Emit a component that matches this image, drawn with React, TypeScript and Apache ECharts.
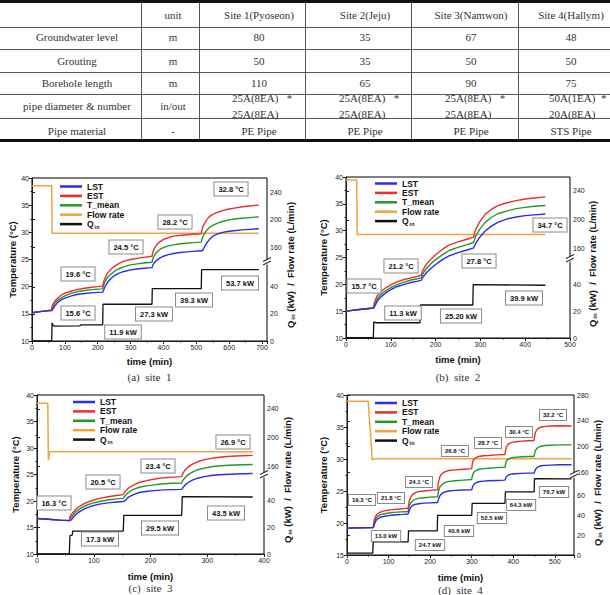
import React, { useEffect, useRef } from 'react';
import * as echarts from 'echarts';

// ---------------- table data ----------------
const tableHeader = ['unit', 'Site 1(Pyoseon)', 'Site 2(Jeju)', 'Site 3(Namwon)', 'Site 4(Hallym)'];
const rowLabels = ['Groundwater level', 'Grouting', 'Borehole length', 'pipe diameter & number', 'Pipe material'];
const rowUnits = ['m', 'm', 'm', 'in/out', '-'];
const groundwaterLevel = ['80', '35', '67', '48'];
const groutingDepth = ['50', '35', '50', '50'];
const boreholeLength = ['110', '65', '90', '75'];
const pipeDiameter = ['25A(8EA)   *\n25A(8EA)', '25A(8EA)   *\n25A(8EA)', '25A(8EA)   *\n25A(8EA)', '50A(1EA)  *\n20A(8EA)'];
const pipeMaterial = ['PE Pipe', 'PE Pipe', 'PE Pipe', 'STS Pipe'];
const captions = ['(a)  site  1', '(b)  site  2', '(c)  site  3', '(d)  site  4'];

// ---------------- chart data ----------------
const seriesNames = ['LST', 'EST', 'T_mean', 'Flow rate', 'Q_in'];

// Site 1
const site1Time = [0, 30, 60, 61, 65, 70, 80, 90, 100, 120, 140, 160, 180, 200, 215, 218, 222, 230, 240, 250, 265, 280, 300, 320, 340, 365, 368, 372, 380, 390, 400, 415, 430, 450, 470, 490, 515, 518, 522, 530, 540, 550, 565, 580, 600, 620, 640, 660, 690];
const site1EST = [15.2, 15.45, 15.7, 16.4, 16.9, 17.4, 18.0, 18.5, 18.8, 19.2, 19.5, 19.7, 19.9, 20.0, 20.1, 20.9, 21.6, 22.5, 23.2, 23.7, 24.3, 24.7, 25.0, 25.2, 25.4, 25.6, 26.4, 27.0, 27.8, 28.3, 28.7, 29.0, 29.3, 29.45, 29.55, 29.65, 29.75, 30.6, 31.3, 32.2, 32.9, 33.3, 33.7, 34.0, 34.3, 34.5, 34.7, 34.85, 35.0];
const site1Tmean = [15.2, 15.45, 15.65, 16.0, 16.5, 17.0, 17.6, 18.0, 18.3, 18.8, 19.1, 19.3, 19.45, 19.55, 19.6, 20.3, 20.9, 21.7, 22.3, 22.8, 23.3, 23.7, 24.0, 24.2, 24.35, 24.5, 25.2, 25.7, 26.4, 26.9, 27.2, 27.5, 27.7, 27.9, 28.0, 28.1, 28.2, 28.9, 29.5, 30.3, 30.9, 31.3, 31.7, 32.0, 32.3, 32.5, 32.6, 32.7, 32.85];
const site1LST = [15.2, 15.45, 15.6, 15.7, 16.0, 16.5, 17.2, 17.6, 17.9, 18.3, 18.6, 18.75, 18.85, 18.95, 19.0, 19.4, 20.0, 20.8, 21.5, 22.0, 22.5, 22.8, 23.1, 23.25, 23.4, 23.5, 24.0, 24.4, 24.9, 25.3, 25.6, 25.9, 26.1, 26.3, 26.4, 26.5, 26.6, 26.6, 27.0, 27.9, 28.7, 29.3, 29.7, 30.0, 30.2, 30.35, 30.45, 30.55, 30.65];
const site1Q = [[0, 0], [60, 0], [61, 13.5], [64, 11.5], [70, 11.0], [145, 11.2], [150, 12.0], [215, 12.0], [216, 27.2], [365, 27.2], [366, 38.8], [515, 38.8], [516, 52.8], [690, 52.8]];
const site1Flow = [[0, 249], [60, 249], [61, 180], [690, 180]];
const site1TempLabels = ['15.6 °C', '19.6 °C', '24.5 °C', '28.2 °C', '32.8 °C'];
const site1PowerLabels = ['11.9 kW', '27.3 kW', '39.3 kW', '53.7 kW'];

// Site 2
const site2Time = [0, 30, 62, 63, 66, 70, 80, 90, 100, 115, 130, 145, 160, 168, 170, 174, 180, 190, 200, 215, 230, 250, 270, 285, 287, 291, 298, 310, 325, 340, 360, 380, 400, 420, 445];
const site2EST = [15.0, 15.3, 15.6, 16.5, 17.2, 17.9, 18.8, 19.4, 19.9, 20.5, 20.9, 21.2, 21.5, 21.7, 22.3, 23.0, 23.8, 24.7, 25.5, 26.5, 27.3, 27.9, 28.4, 28.8, 29.6, 30.5, 31.6, 33.0, 34.0, 34.7, 35.2, 35.6, 35.9, 36.1, 36.3];
const site2Tmean = [15.0, 15.3, 15.6, 16.0, 16.6, 17.3, 18.3, 18.9, 19.4, 20.0, 20.4, 20.8, 21.05, 21.2, 21.7, 22.3, 23.0, 23.9, 24.6, 25.5, 26.3, 26.9, 27.4, 27.8, 28.4, 29.2, 30.2, 31.5, 32.5, 33.2, 33.7, 34.1, 34.35, 34.55, 34.7];
const site2LST = [15.0, 15.3, 15.6, 15.8, 16.2, 16.9, 17.8, 18.5, 19.0, 19.6, 20.0, 20.35, 20.6, 20.75, 21.1, 21.6, 22.2, 23.0, 23.7, 24.6, 25.3, 25.9, 26.4, 26.8, 27.2, 27.8, 28.7, 29.9, 30.9, 31.6, 32.2, 32.55, 32.8, 32.95, 33.1];
const site2Q = [[0, 0.3], [61, 0.3], [62, 12.3], [66, 11.5], [165, 11.5], [166, 24.9], [283, 24.9], [284, 40.2], [445, 39.8]];
const site2Flow = [[0, 255], [24, 255], [25, 180], [445, 180]];
const site2TempLabels = ['15.7 °C', '21.2 °C', '27.8 °C', '34.7 °C'];
const site2PowerLabels = ['11.3 kW', '25.20 kW', '39.9 kW'];

// Site 3
const site3Time = [0, 20, 40, 57, 58, 60, 63, 68, 75, 85, 95, 110, 125, 140, 152, 154, 157, 162, 170, 180, 195, 210, 225, 240, 255, 257, 260, 265, 273, 283, 295, 310, 330, 350, 380];
const site3EST = [16.7, 16.55, 16.4, 16.3, 17.0, 17.4, 17.8, 18.4, 19.0, 19.6, 20.0, 20.5, 20.8, 21.05, 21.2, 21.6, 22.0, 22.5, 23.0, 23.5, 23.9, 24.2, 24.4, 24.5, 24.6, 25.2, 25.7, 26.3, 26.9, 27.4, 27.8, 28.1, 28.35, 28.5, 28.6];
const site3Tmean = [16.7, 16.55, 16.4, 16.3, 16.6, 16.9, 17.3, 17.9, 18.5, 19.1, 19.5, 19.9, 20.2, 20.4, 20.5, 20.8, 21.2, 21.7, 22.2, 22.6, 22.9, 23.1, 23.25, 23.35, 23.4, 23.9, 24.3, 24.9, 25.4, 25.9, 26.2, 26.5, 26.7, 26.8, 26.9];
const site3LST = [16.7, 16.55, 16.4, 16.3, 16.3, 16.4, 16.8, 17.4, 18.0, 18.6, 19.0, 19.4, 19.65, 19.8, 19.9, 20.0, 20.3, 20.8, 21.2, 21.6, 21.85, 22.0, 22.1, 22.15, 22.2, 22.5, 22.9, 23.4, 23.9, 24.3, 24.6, 24.85, 25.0, 25.1, 25.2];
const site3Q = [[0, 0], [57, 0], [58, 13.8], [62, 14.2], [63, 17.3], [152, 17.3], [153, 29.2], [255, 29.2], [256, 43.3], [380, 43.0]];
const site3Flow = [[0, 248], [19, 248], [20, 168], [21, 172], [22, 180], [380, 180]];
const site3TempLabels = ['16.3 °C', '20.5 °C', '23.4 °C', '26.9 °C'];
const site3PowerLabels = ['17.3 kW', '29.5 kW', '43.5 kW'];

// Site 4
const site4Time = [0, 30, 63, 64, 66, 69, 73, 80, 90, 105, 120, 135, 147, 148, 150, 153, 157, 163, 172, 185, 200, 218, 219, 221, 224, 228, 235, 245, 260, 280, 300, 301, 303, 306, 310, 317, 327, 340, 360, 380, 381, 383, 386, 390, 397, 407, 420, 435, 450, 451, 453, 456, 460, 467, 477, 490, 510, 540];
const site4EST = [19.2, 19.25, 19.3, 19.9, 20.6, 21.1, 21.4, 21.7, 21.9, 22.05, 22.15, 22.25, 22.3, 22.8, 23.5, 24.0, 24.4, 24.7, 24.9, 25.0, 25.1, 25.2, 25.9, 26.7, 27.3, 27.7, 28.0, 28.2, 28.3, 28.4, 28.5, 29.1, 29.7, 30.0, 30.2, 30.4, 30.5, 30.55, 30.65, 30.7, 31.2, 31.8, 32.2, 32.4, 32.6, 32.7, 32.8, 32.85, 32.9, 33.4, 34.1, 34.5, 34.8, 35.0, 35.1, 35.15, 35.2, 35.15];
const site4Tmean = [19.2, 19.25, 19.3, 19.6, 20.2, 20.7, 21.0, 21.3, 21.45, 21.6, 21.7, 21.75, 21.8, 22.2, 22.7, 23.1, 23.4, 23.7, 23.85, 23.95, 24.05, 24.1, 24.6, 25.2, 25.7, 26.0, 26.3, 26.5, 26.6, 26.7, 26.8, 27.2, 27.7, 28.0, 28.2, 28.4, 28.5, 28.55, 28.65, 28.7, 29.1, 29.6, 29.9, 30.05, 30.2, 30.3, 30.35, 30.4, 30.4, 30.8, 31.3, 31.6, 31.8, 32.0, 32.1, 32.15, 32.2, 32.2];
const site4LST = [19.2, 19.25, 19.3, 19.4, 19.8, 20.3, 20.6, 20.9, 21.05, 21.2, 21.3, 21.35, 21.4, 21.6, 22.0, 22.4, 22.7, 22.9, 23.0, 23.1, 23.15, 23.2, 23.5, 23.9, 24.3, 24.6, 24.85, 25.0, 25.1, 25.15, 25.2, 25.4, 25.8, 26.1, 26.3, 26.45, 26.55, 26.6, 26.65, 26.7, 26.9, 27.2, 27.4, 27.55, 27.65, 27.7, 27.75, 27.8, 27.8, 28.0, 28.3, 28.6, 28.8, 28.95, 29.0, 29.05, 29.1, 29.1];
const site4Q = [[0, 2], [62, 2], [63, 13.3], [147, 13.3], [148, 24.5], [217, 24.5], [218, 40.3], [300, 40.3], [301, 52.5], [380, 52.5], [381, 64], [450, 64], [451, 77.5], [540, 77.2]];
const site4Flow = [[0, 271], [51, 271], [61, 178], [63, 181], [540, 181]];
const site4TempLabels = ['19.3 °C', '21.8 °C', '24.1 °C', '26.8 °C', '28.7 °C', '30.4 °C', '32.2 °C'];
const site4PowerLabels = ['13.0 kW', '24.7 kW', '40.6 kW', '52.5 kW', '64.3 kW', '76.7 kW'];

// axis tick values
const tempTicks13 = [10, 40, 5];
const tempTicks4 = [15, 40, 5];
const qTicks = [0, 20, 40];
const qTicks4 = [0, 20, 40, 60];
const flowTicks = [160, 200, 240];
const flowTicks4 = [160, 200, 240, 280];

const sites = [
  { time: site1Time, LST: site1LST, EST: site1EST, Tmean: site1Tmean, Q: site1Q, Flow: site1Flow, tl: site1TempLabels, pl: site1PowerLabels, temp: tempTicks13, qT: qTicks, fT: flowTicks },
  { time: site2Time, LST: site2LST, EST: site2EST, Tmean: site2Tmean, Q: site2Q, Flow: site2Flow, tl: site2TempLabels, pl: site2PowerLabels, temp: tempTicks13, qT: qTicks, fT: flowTicks },
  { time: site3Time, LST: site3LST, EST: site3EST, Tmean: site3Tmean, Q: site3Q, Flow: site3Flow, tl: site3TempLabels, pl: site3PowerLabels, temp: tempTicks13, qT: qTicks, fT: flowTicks },
  { time: site4Time, LST: site4LST, EST: site4EST, Tmean: site4Tmean, Q: site4Q, Flow: site4Flow, tl: site4TempLabels, pl: site4PowerLabels, temp: tempTicks4, qT: qTicks4, fT: flowTicks4 },
];

// ---------------- layout (pixels) ----------------
const geo = [
  { L: 32, R: 267, T: 178, B: 341, brk: 262, xMax: 715, qMax: 58.5, fMin: 138.2, fMax: 260.4,
    legL: 60, legT: 182, tX: 12, rX: 290, rY: 265, timeY: 361, capY: 377, box: 7.5,
    tlPos: [[78, 313], [78, 274], [126, 247], [175, 222], [231, 189]], plPos: [[123, 332], [154, 314], [194, 300], [240, 283]] },
  { L: 346, R: 570, T: 177, B: 338, brk: 259, xMax: 500, qMax: 59.6, fMin: 146.2, fMax: 259.3,
    legL: 375, legT: 179, tX: 323, rX: 592, rY: 264, timeY: 359, capY: 377, box: 7.5,
    tlPos: [[364, 286], [401, 266], [479, 261], [550, 225]], plPos: [[403, 313], [461, 316], [524, 298]] },
  { L: 37, R: 264, T: 395, B: 554, brk: 475, xMax: 400, qMax: 59.6, fMin: 147.4, fMax: 259.6,
    legL: 73, legT: 397.5, tX: 15, rX: 287, rY: 480, timeY: 576, capY: 588, box: 7.5,
    tlPos: [[54, 503], [103, 482], [158, 466], [233, 442]], plPos: [[100, 539], [160, 528], [226, 513]] },
  { L: 347, R: 574, T: 395, B: 555, brk: 475, xMax: 546, qMax: 81.2, fMin: 155.4, fMax: 280.6,
    legL: 375, legT: 398.5, tX: 323, rX: 597, rY: 483, timeY: 577, capY: 590, box: 6,
    tlPos: [[362, 500], [391, 498], [419, 482], [455, 451], [488, 443], [519, 432], [553, 415]],
    plPos: [[386, 536], [430, 545], [459, 531], [492, 518], [521, 505], [554, 492]] },
];

const colors: Record<string, string> = {
  LST: '#2b2bf2',
  EST: '#f22a2a',
  T_mean: '#1f9a27',
  'Flow rate': '#f0a33c',
  Q_in: '#111111',
};

const SANS = '"Liberation Sans", Arial, Helvetica, sans-serif';
const SERIF = '"Liberation Serif", "Times New Roman", serif';
const AX = '#1a1a1a';

function buildOption() {
  const grid: any[] = [];
  const xAxis: any[] = [];
  const yAxis: any[] = [];
  const series: any[] = [];
  const legend: any[] = [];
  const graphic: any[] = [];

  const tickLabel = { fontSize: 7, color: '#222', fontFamily: SANS, margin: 3 };

  sites.forEach((s, p) => {
    const g = geo[p];
    const w = g.R - g.L;
    const gi = p * 3;
    grid.push({ left: g.L, top: g.T, width: w, height: g.B - g.T, show: true, borderColor: '#000', borderWidth: 1, backgroundColor: 'transparent' });
    grid.push({ left: g.L, top: g.brk, width: w, height: g.B - g.brk, show: false });
    grid.push({ left: g.L, top: g.T, width: w, height: g.brk - g.T, show: false });

    xAxis.push({
      gridIndex: gi, type: 'value', min: 0, max: g.xMax, interval: 100,
      axisLine: { show: true, onZero: false, lineStyle: { color: AX, width: 1 } },
      axisTick: { show: true, inside: false, length: 3, lineStyle: { color: AX } },
      minorTick: { show: true, splitNumber: 2, length: 1.5, lineStyle: { color: AX } },
      splitLine: { show: false },
      axisLabel: { ...tickLabel, formatter: (v: number) => (v % 100 === 0 ? String(v) : '') },
    });
    xAxis.push({ gridIndex: gi + 1, type: 'value', min: 0, max: g.xMax, show: false });
    xAxis.push({ gridIndex: gi + 2, type: 'value', min: 0, max: g.xMax, show: false });

    yAxis.push({
      gridIndex: gi, type: 'value', position: 'left', min: s.temp[0], max: s.temp[1], interval: s.temp[2],
      axisLine: { show: true, onZero: false, lineStyle: { color: AX, width: 1 } },
      axisTick: { show: true, inside: false, length: 3, lineStyle: { color: AX } },
      minorTick: { show: true, splitNumber: 2, length: 1.5, lineStyle: { color: AX } },
      splitLine: { show: false },
      axisLabel: { ...tickLabel },
    });
    yAxis.push({
      gridIndex: gi + 1, type: 'value', position: 'right', min: 0, max: g.qMax,
      axisLine: { show: false },
      axisTick: { show: true, inside: false, length: 3, lineStyle: { color: AX }, customValues: s.qT },
      splitLine: { show: false },
      axisLabel: { ...tickLabel, customValues: s.qT },
    });
    yAxis.push({
      gridIndex: gi + 2, type: 'value', position: 'right', min: g.fMin, max: g.fMax,
      axisLine: { show: false },
      axisTick: { show: true, inside: false, length: 3, lineStyle: { color: AX }, customValues: s.fT },
      splitLine: { show: false },
      axisLabel: { ...tickLabel, customValues: s.fT },
    });

    const line = (name: string, data: any[], xi: number, width: number) => ({
      type: 'line', name, xAxisIndex: xi, yAxisIndex: xi, data,
      showSymbol: false, symbol: 'none', silent: true,
      lineStyle: { color: colors[name], width }, itemStyle: { color: colors[name] },
    });
    series.push(line('Flow rate', s.Flow, gi + 2, 1.5));
    series.push(line('Q_in', s.Q, gi + 1, 1.3));
    series.push(line('T_mean', s.time.map((t, i) => [t, s.Tmean[i]]), gi, 1.4));
    series.push(line('EST', s.time.map((t, i) => [t, s.EST[i]]), gi, 1.4));
    series.push(line('LST', s.time.map((t, i) => [t, s.LST[i]]), gi, 1.4));

    legend.push({
      data: seriesNames, orient: 'vertical', left: g.legL, top: g.legT,
      itemWidth: 22, itemHeight: 2.5, itemGap: 0.4, icon: 'rect', padding: 0, selectedMode: false,
      formatter: (n: string) => (n === 'Q_in' ? '{q|Q}{s|in}' : n),
      textStyle: {
        fontSize: 8.5, fontWeight: 'bold', color: '#111', fontFamily: SANS, lineHeight: 9,
        rich: {
          q: { fontSize: 8.5, fontWeight: 'bold', fontFamily: SANS, color: '#111' },
          s: { fontSize: 5.5, fontWeight: 'bold', fontFamily: SANS, color: '#111', padding: [5, 0, 0, 1] },
        },
      },
    });

    // break marks on the right axis
    graphic.push({ type: 'rect', z: 90, shape: { x: g.R - 4, y: g.brk - 2.5, width: 8, height: 5 }, style: { fill: '#fff' } });
    graphic.push({ type: 'line', z: 91, shape: { x1: g.R - 4, y1: g.brk - 0.5, x2: g.R + 4, y2: g.brk - 4.5 }, style: { stroke: '#000', lineWidth: 1 } });
    graphic.push({ type: 'line', z: 91, shape: { x1: g.R - 4, y1: g.brk + 3, x2: g.R + 4, y2: g.brk - 1 }, style: { stroke: '#000', lineWidth: 1 } });

    // axis titles
    const cx = (g.L + g.R) / 2;
    graphic.push({ type: 'text', z: 100, x: g.tX, y: (g.T + g.B) / 2, rotation: Math.PI / 2,
      style: { text: 'Temperature (°C)', font: `bold 9.5px ${SANS}`, fill: '#111', align: 'center', verticalAlign: 'middle' } });
    graphic.push({ type: 'text', z: 100, x: g.rX, y: g.rY, rotation: Math.PI / 2,
      style: {
        text: '{b|Q}{s|in}{b| (kW)  /  Flow rate (L/min)}', align: 'center', verticalAlign: 'middle', fill: '#111',
        rich: {
          b: { font: `bold 9.5px ${SANS}`, fill: '#111' },
          s: { font: `bold 6px ${SANS}`, fill: '#111', padding: [5, 0, 0, 1] },
        },
      } });
    graphic.push({ type: 'text', z: 100, x: cx, y: g.timeY,
      style: { text: 'time (min)', font: `bold 9.5px ${SANS}`, fill: '#111', align: 'center', verticalAlign: 'middle' } });
    graphic.push({ type: 'text', z: 100, x: cx, y: g.capY,
      style: { text: captions[p], font: `11px ${SERIF}`, fill: '#333', align: 'center', verticalAlign: 'middle' } });

    // boxed annotations
    const boxStyle = (text: string) => ({
      text, font: `bold ${g.box}px ${SANS}`, fill: '#111', align: 'center', verticalAlign: 'middle',
      backgroundColor: '#fff', borderColor: '#8a8a8a', borderWidth: 1, padding: p === 3 ? [2, 3] : [2.5, 4],
    });
    s.tl.forEach((t, i) => graphic.push({ type: 'text', z: 100, x: g.tlPos[i][0], y: g.tlPos[i][1], style: boxStyle(t) }));
    s.pl.forEach((t, i) => graphic.push({ type: 'text', z: 100, x: g.plPos[i][0], y: g.plPos[i][1], style: boxStyle(t) }));
  });

  // ---------------- table ----------------
  const tf = `11px ${SERIF}`;
  const tc = '#333';
  const colLines = [141, 199, 305, 411, 518];
  const thinLines = [27, 49, 72, 94, 118];
  const headerY = 15;
  const rowY = [37, 61, 83, 106, 131];
  const labelX = 77;
  const unitX = 173;
  const siteX = [259, 365, 471, 571];
  const pipeLeftX = [232, 339, 445, 549];

  graphic.push({ type: 'line', z: 10, shape: { x1: 0, y1: 1.5, x2: 610, y2: 1.5 }, style: { stroke: '#111', lineWidth: 3 } });
  graphic.push({ type: 'line', z: 10, shape: { x1: 0, y1: 140.5, x2: 610, y2: 140.5 }, style: { stroke: '#111', lineWidth: 3 } });
  thinLines.forEach((y) => graphic.push({ type: 'line', z: 10, shape: { x1: 0, y1: y + 0.5, x2: 610, y2: y + 0.5 }, style: { stroke: '#555', lineWidth: 1 } }));
  colLines.forEach((x) => graphic.push({ type: 'line', z: 10, shape: { x1: x + 0.5, y1: 3, x2: x + 0.5, y2: 139 }, style: { stroke: '#555', lineWidth: 1 } }));

  const txt = (text: string, x: number, y: number, align = 'center', lh = 13) => ({
    type: 'text', z: 20, x, y, style: { text, font: tf, fill: tc, align, verticalAlign: 'middle', lineHeight: lh },
  });
  graphic.push(txt(tableHeader[0], unitX, headerY));
  siteX.forEach((x, i) => graphic.push(txt(tableHeader[i + 1], x, headerY)));
  const rowValues = [groundwaterLevel, groutingDepth, boreholeLength, pipeDiameter, pipeMaterial];
  rowLabels.forEach((lab, r) => {
    graphic.push(txt(lab, labelX, rowY[r]));
    graphic.push(txt(rowUnits[r], unitX, rowY[r]));
    rowValues[r].forEach((v, i) => {
      if (r === 3) graphic.push(txt(v, pipeLeftX[i], rowY[r], 'left', 16));
      else graphic.push(txt(v, siteX[i], rowY[r]));
    });
  });

  return {
    animation: false,
    backgroundColor: '#fff',
    textStyle: { fontFamily: SANS },
    grid, xAxis, yAxis, series, legend, graphic,
  };
}

export default function App() {
  const ref = useRef<HTMLDivElement>(null);
  useEffect(() => {
    document.body.style.margin = '0';
    const chart = echarts.init(ref.current!, undefined, { renderer: 'svg' });
    chart.setOption(buildOption() as any);
    return () => chart.dispose();
  }, []);
  return <div ref={ref} style={{ position: 'absolute', left: 0, top: 0, width: 610, height: 595, background: '#fff' }} />;
}
